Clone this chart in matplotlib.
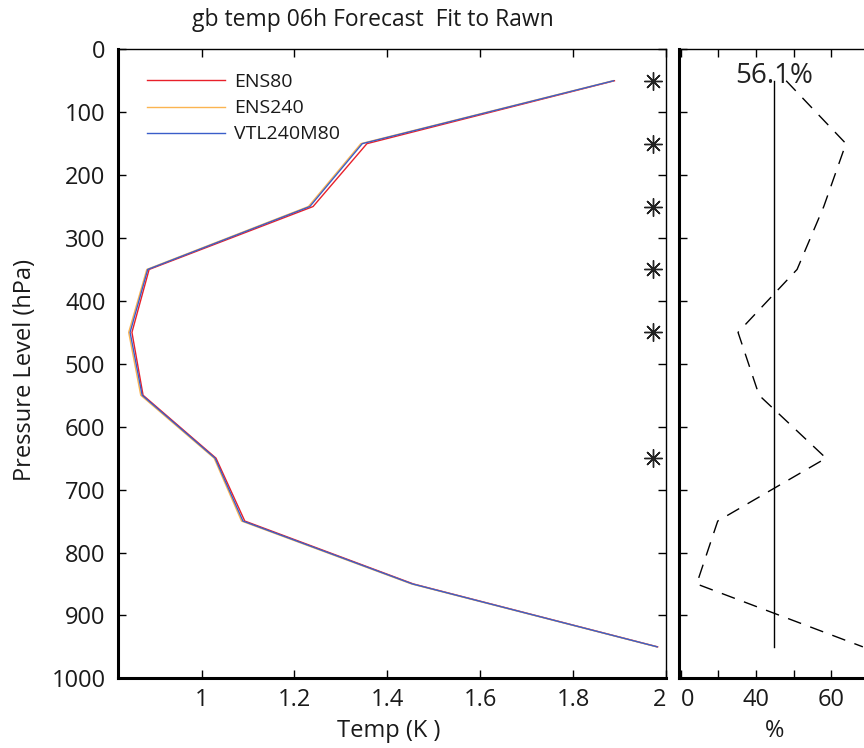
import numpy as np
import matplotlib
matplotlib.use("Agg")
import matplotlib.pyplot as plt

plt.rcParams['font.family'] = ['Open Sans', 'DejaVu Sans']

# данные
levels = [50, 150, 250, 350, 450, 550, 650, 750, 850, 950]
ens80 = [1.889, 1.356, 1.240, 0.887, 0.850, 0.874, 1.031, 1.093, 1.456, 1.982]
ens240 = [1.886, 1.343, 1.230, 0.882, 0.843, 0.869, 1.027, 1.086, 1.452, 1.980]
vtl240m80 = [1.887, 1.346, 1.233, 0.884, 0.846, 0.872, 1.029, 1.089, 1.454, 1.981]
star_levels = [50, 150, 250, 350, 450, 650]
star_x = [1.971] * len(star_levels)

pct = [48.0, 63.9, 58.0, 50.9, 35.2, 40.8, 58.6, 29.8, 24.2, 68.4]
mean_pct = 44.8
mean_label = "56.1%"

W, H = 864, 748
fig = plt.figure(figsize=(W / 100, H / 100), dpi=100)

txt = '#1a1a1a'
fs_tick = 17

# ліва панель
ax = fig.add_axes([118 / W, 1 - 678.3 / H, (666 - 118) / W, (678.3 - 49.3) / H])
ax.plot(ens80, levels, color='#e8202a', lw=1.0, label='ENS80')
ax.plot(ens240, levels, color='#fbb451', lw=1.0, label='ENS240')
ax.plot(vtl240m80, levels, color='#3a5ec9', lw=1.0, label='VTL240M80')
ax.plot(star_x, star_levels, linestyle='none', marker=(8, 2, 0), markersize=13,
        color='#222222', markeredgewidth=1.0)
ax.set_xlim(0.82, 2.0)
ax.set_ylim(1000, 0)
ax.set_xticks([1, 1.2, 1.4, 1.6, 1.8, 2])
ax.set_xticklabels(['1', '1.2', '1.4', '1.6', '1.8', '2'])
ax.get_xticklabels()[-1].set_horizontalalignment('right')
ax.set_yticks(np.arange(0, 1001, 100))
ax.tick_params(direction='in', top=True, right=True, length=6, width=1,
               labelsize=fs_tick, labelcolor=txt, pad=7)
ax.tick_params(axis='y', pad=9)
for s in ['left', 'bottom']:
    ax.spines[s].set_linewidth(2.2)
for s in ['top', 'right']:
    ax.spines[s].set_linewidth(1.0)
leg = ax.legend(loc='upper left', frameon=False, fontsize=14, handlelength=4.0,
                bbox_to_anchor=(0.018, 0.993), borderaxespad=0.6, labelspacing=0.42,
                handletextpad=0.45)
for t in leg.get_texts():
    t.set_color(txt)

# права панель
ax2 = fig.add_axes([679 / W, 1 - 678.3 / H, 60.5 * 3.76 / W, (678.3 - 49.3) / H])
ax2.plot(pct, levels, color='black', lw=1.0, dashes=(10, 7))
ax2.plot([mean_pct, mean_pct], [levels[0], levels[-1]], color='black', lw=1.0)
ax2.text(mean_pct, 42, mean_label, ha='center', va='center', fontsize=20, color='#222222')
ax2.set_xlim(19.5, 80)
ax2.set_ylim(1000, 0)
ax2.set_xticks([20, 30, 40, 50, 60, 70])
ax2.set_xticklabels(['0', '', '40', '', '60', ''])
ax2.get_xticklabels()[0].set_horizontalalignment('left')
ax2.set_yticks(np.arange(0, 1001, 100))
ax2.set_yticklabels([])
ax2.tick_params(direction='in', top=True, right=True, length=6, width=1,
                labelsize=fs_tick, labelcolor=txt, pad=7)
ax2.spines['left'].set_linewidth(2.2)
ax2.spines['bottom'].set_linewidth(2.2)
ax2.spines['top'].set_linewidth(1.0)

# підписи
fig.text(373 / W, 1 - 20 / H, 'gb temp 06h Forecast  Fit to Rawn', ha='center', va='center',
         fontsize=16.5, color=txt)
fig.text(25 / W, 1 - 370 / H, 'Pressure Level (hPa)', ha='center', va='center',
         rotation=90, fontsize=17, color=txt)
fig.text(389 / W, 1 - 731 / H, 'Temp (K )', ha='center', va='center', fontsize=17, color=txt)
fig.text(775 / W, 1 - 731 / H, '%', ha='center', va='center', fontsize=17, color=txt)

fig.savefig('out.png', dpi=100)
